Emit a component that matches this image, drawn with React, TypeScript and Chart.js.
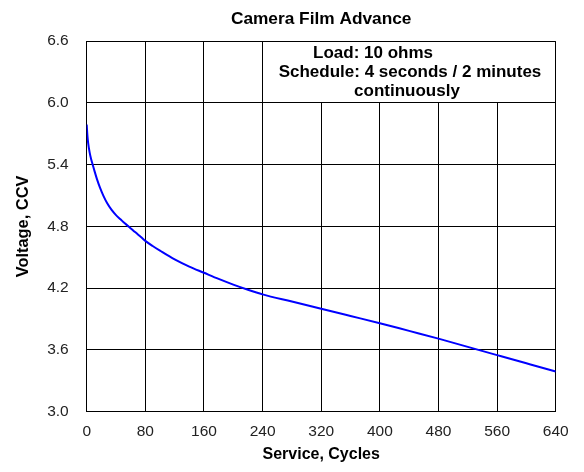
import React, { useEffect, useRef } from "react";
import { Chart, registerables } from "chart.js";

Chart.register(...registerables);

const titleText = "Camera Film Advance";
const xTitle = "Service, Cycles";
const yTitle = "Voltage, CCV";
const noteLines = ["Load: 10 ohms", "Schedule: 4 seconds / 2 minutes", "continuously"];

const xTickValues = [0, 80, 160, 240, 320, 400, 480, 560, 640];
const xTickLabels = ["0", "80", "160", "240", "320", "400", "480", "560", "640"];
const yTickValues = [3.0, 3.6, 4.2, 4.8, 5.4, 6.0, 6.6];
const yTickLabels = ["3.0", "3.6", "4.2", "4.8", "5.4", "6.0", "6.6"];

const cycles = [0, 1, 2, 4, 6, 8, 11, 14, 18, 23, 28, 34, 40, 46, 52, 58, 66, 74, 80, 90, 100, 120, 140, 160, 180, 200, 220, 240, 280, 320, 360, 400, 440, 480, 520, 560, 600, 640];
const voltage = [5.79, 5.68, 5.61, 5.52, 5.455, 5.405, 5.33, 5.26, 5.18, 5.095, 5.025, 4.96, 4.91, 4.87, 4.83, 4.795, 4.745, 4.697, 4.66, 4.61, 4.565, 4.48, 4.41, 4.35, 4.29, 4.235, 4.185, 4.14, 4.07, 4.0, 3.93, 3.86, 3.785, 3.71, 3.63, 3.55, 3.47, 3.39];

// annotation box extent (data units)
const noteBoxX = [240, 640];
const noteBoxY = [6.0, 6.6];

const FONT = '"Liberation Sans", Arial, Helvetica, sans-serif';

const notePlugin = {
  id: "noteBox",
  beforeDatasetsDraw(chart: any) {
    const { ctx, scales } = chart;
    const xs = scales.x;
    const ys = scales.y;
    const x0 = Math.floor(xs.getPixelForValue(noteBoxX[0])) + 1;
    const x1 = Math.floor(xs.getPixelForValue(noteBoxX[1]));
    const y0 = Math.floor(ys.getPixelForValue(noteBoxY[1])) + 1;
    const y1 = Math.floor(ys.getPixelForValue(noteBoxY[0]));
    ctx.save();
    ctx.fillStyle = "#ffffff";
    ctx.fillRect(x0, y0, x1 - x0, y1 - y0);
    const cx = (x0 + x1) / 2;
    ctx.fillStyle = "#000000";
    ctx.font = `bold 17px ${FONT}`;
    ctx.textAlign = "center";
    ctx.textBaseline = "alphabetic";
    const offsets = [-36, 1, -2];
    const baselines = [16.3, 35, 54];
    noteLines.forEach((t, i) => {
      ctx.fillText(t, cx + offsets[i], y0 + baselines[i]);
    });
    ctx.restore();
  },
};

export default function App() {
  const ref = useRef<HTMLCanvasElement | null>(null);
  useEffect(() => {
    document.body.style.margin = "0";
    const canvas = ref.current;
    if (!canvas) return;
    const chart = new Chart(canvas, {
      type: "line",
      data: {
        datasets: [
          {
            data: cycles.map((c, i) => ({ x: c, y: voltage[i] })),
            borderColor: "#0000ff",
            borderWidth: 2,
            pointRadius: 0,
            fill: false,
            cubicInterpolationMode: "monotone",
          },
        ],
      },
      options: {
        animation: false,
        responsive: false,
        maintainAspectRatio: false,
        layout: { padding: { left: 0, right: 28.3, top: 0, bottom: 0 } },
        plugins: {
          legend: { display: false },
          tooltip: { enabled: false },
          title: {
            display: true,
            text: titleText,
            fullSize: false,
            color: "#000000",
            font: { family: FONT, size: 17.3, weight: "bold" },
            padding: { top: 8.6, bottom: 11.8 },
          },
        },
        scales: {
          x: {
            type: "linear",
            min: 0,
            max: 640,
            afterBuildTicks: (s: any) => {
              s.ticks = xTickValues.map((v) => ({ value: v }));
            },
            afterFit: (s: any) => {
              s.height = 60.3;
            },
            ticks: {
              color: "#222222",
              font: { family: FONT, size: 15.5 },
              padding: 11,
              maxRotation: 0,
              callback: (_v: any, i: number) => xTickLabels[i],
            },
            grid: { color: "#000000", lineWidth: 1, drawTicks: false },
            border: { display: true, color: "#000000", width: 1 },
            title: {
              display: true,
              text: xTitle,
              color: "#000000",
              font: { family: FONT, size: 16, weight: "bold" },
              padding: { top: 0, bottom: 7.4 },
            },
          },
          y: {
            type: "linear",
            min: 3.0,
            max: 6.6,
            afterBuildTicks: (s: any) => {
              s.ticks = yTickValues.map((v) => ({ value: v }));
            },
            afterFit: (s: any) => {
              s.width = 86.7;
            },
            ticks: {
              color: "#222222",
              font: { family: FONT, size: 15.5 },
              padding: 18,
              callback: (_v: any, i: number) => yTickLabels[i],
            },
            grid: { color: "#000000", lineWidth: 1, drawTicks: false },
            border: { display: true, color: "#000000", width: 1 },
            title: {
              display: true,
              text: yTitle,
              color: "#000000",
              font: { family: FONT, size: 16.4, weight: "bold" },
              padding: { top: 14, bottom: 0 },
            },
          },
        },
      },
      plugins: [notePlugin],
    } as any);
    return () => chart.destroy();
  }, []);
  return (
    <div style={{ position: "absolute", left: 0, top: 0, width: 584, height: 472 }}>
      <canvas ref={ref} width={584} height={472} style={{ width: 584, height: 472, display: "block" }} />
    </div>
  );
}
